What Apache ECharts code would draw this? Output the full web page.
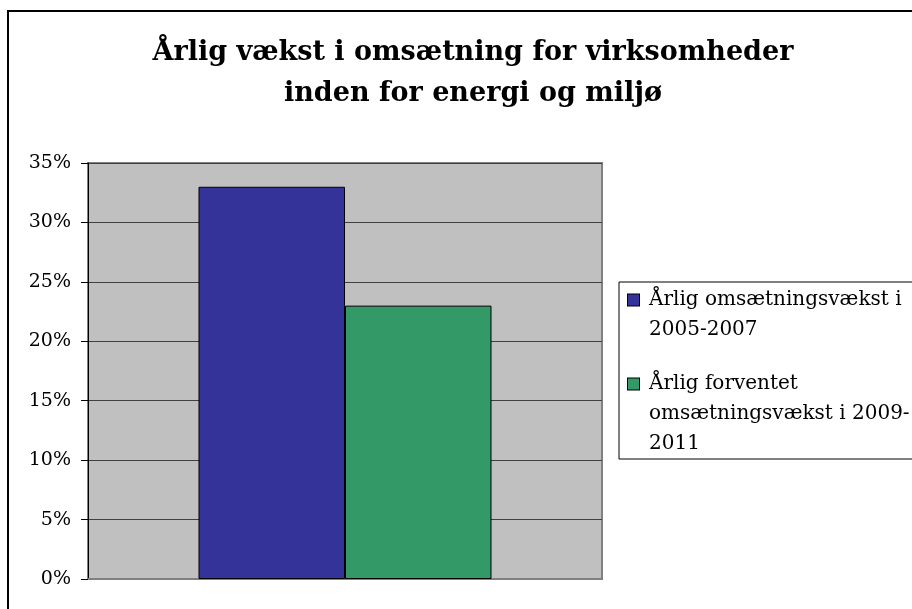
<!DOCTYPE html>
<html>
<head>
<meta charset="utf-8">
<script src="https://cdn.jsdelivr.net/npm/echarts@6/dist/echarts.min.js"></script>
<style>
  html, body { margin: 0; padding: 0; background: #fff; }
  #chart { width: 912px; height: 609px; }
</style>
</head>
<body>
<div id="chart"></div>
<script>
// chart data
const categories = [''];
const seriesNames = ['Årlig omsætningsvækst i\n2005-2007', 'Årlig forventet\nomsætningsvækst i 2009-\n2011'];
const growth0507 = [33];
const growth0911 = [23];
const yTicks = [0, 5, 10, 15, 20, 25, 30, 35];

const FONT = '"DejaVu Serif", "Liberation Serif", serif';
const colors = ['#333399', '#339966'];

document.addEventListener('DOMContentLoaded', () => {
    const chart = echarts.init(document.getElementById('chart'));

    // legend text with a little square in front of the first line
    const legendLabel = (name) => {
        const idx = seriesNames.indexOf(name);
        const lines = name.split('\n');
        return lines.map((line, i) => {
            const lead = i === 0 ? `{sq${idx}|}{sp|}` : '{ind|}';
            return `${lead}{t|${line}}`;
        }).join('\n');
    };

    const square = (color) => ({
        width: 11,
        height: 11,
        backgroundColor: color,
        borderColor: '#000',
        borderWidth: 1
    });

    const option = {
        animation: false,
        textStyle: { fontFamily: FONT },
        title: {
            text: 'Årlig vækst i omsætning for virksomheder\ninden for energi og miljø',
            left: 468,
            top: 27,
            textAlign: 'center',
            textStyle: {
                fontFamily: FONT,
                fontSize: 27,
                fontWeight: 'bold',
                lineHeight: 41,
                color: '#000'
            }
        },
        legend: {
            data: seriesNames,
            orient: 'vertical',
            left: 619,
            top: 282,
            icon: 'rect',
            itemWidth: 0,
            itemHeight: 0,
            itemGap: 24,
            padding: [3, 40, 0, 3],
            borderColor: '#000',
            borderWidth: 1,
            selectedMode: false,
            formatter: legendLabel,
            textStyle: {
                fontFamily: FONT,
                fontSize: 20,
                lineHeight: 30,
                color: '#000',
                rich: {
                    sq0: square(colors[0]),
                    sq1: square(colors[1]),
                    sp: { width: 10 },
                    ind: { width: 21 },
                    t: { fontFamily: FONT, fontSize: 20, lineHeight: 30, color: '#000' }
                }
            }
        },
        grid: {
            left: 88,
            right: 310,
            top: 163,
            bottom: 30,
            show: true,
            backgroundColor: '#c0c0c0',
            borderColor: '#808080',
            borderWidth: 2
        },
        xAxis: {
            type: 'category',
            data: categories,
            axisLine: { show: true, lineStyle: { color: '#808080', width: 2 } },
            axisTick: { show: false },
            axisLabel: { show: false }
        },
        yAxis: {
            type: 'value',
            min: yTicks[0],
            max: yTicks[yTicks.length - 1],
            interval: 5,
            axisLine: { show: true, lineStyle: { color: '#000', width: 1 } },
            axisTick: { show: true, length: 7, lineStyle: { color: '#000' } },
            axisLabel: {
                margin: 17,
                fontFamily: FONT,
                fontSize: 19,
                color: '#000',
                formatter: '{value}%'
            },
            splitLine: { show: true, lineStyle: { color: '#404040', width: 1 } }
        },
        series: [
            {
                name: seriesNames[0],
                type: 'bar',
                data: growth0507,
                barGap: '0%',
                barCategoryGap: '43%',
                itemStyle: { color: colors[0], borderColor: '#000', borderWidth: 1 }
            },
            {
                name: seriesNames[1],
                type: 'bar',
                data: growth0911,
                barGap: '0%',
                barCategoryGap: '43%',
                itemStyle: { color: colors[1], borderColor: '#000', borderWidth: 1 }
            }
        ],
        graphic: [
            {
                type: 'rect',
                silent: true,
                z: 100,
                shape: { x: 8, y: 11, width: 1000, height: 700 },
                style: { fill: 'none', stroke: '#000', lineWidth: 2 }
            }
        ]
    };

    chart.setOption(option);
});
</script>
</body>
</html>
